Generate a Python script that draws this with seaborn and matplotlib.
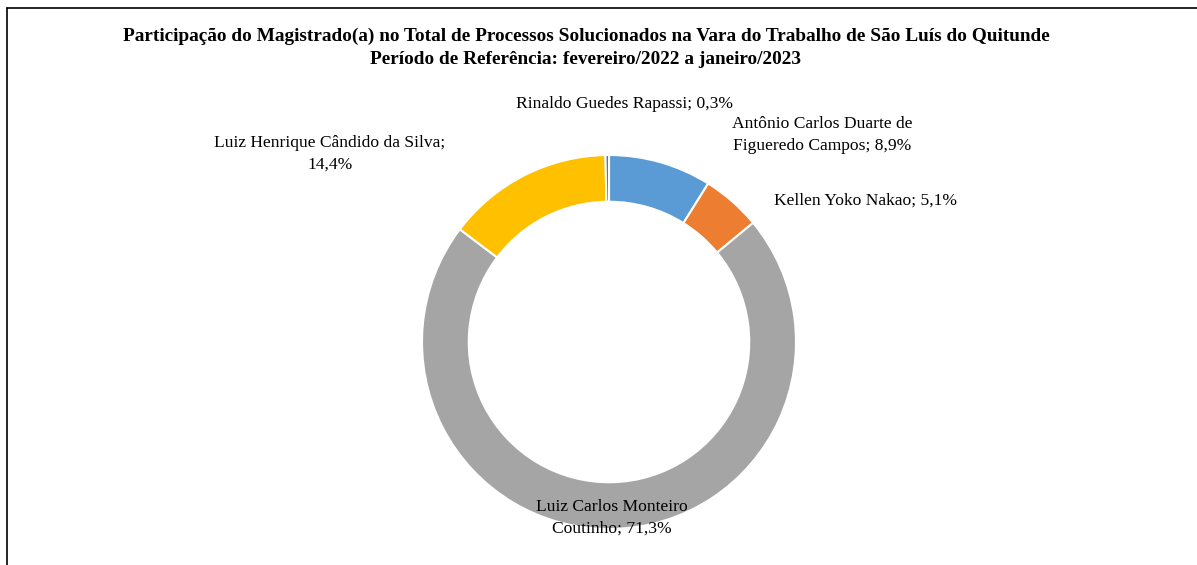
import matplotlib
matplotlib.use("Agg")
import matplotlib.pyplot as plt
import seaborn as sns

# data (clockwise from 12 o'clock)
magistrados = [
    "Antônio Carlos Duarte de Figueredo Campos",
    "Kellen Yoko Nakao",
    "Luiz Carlos Monteiro Coutinho",
    "Luiz Henrique Cândido da Silva",
    "Rinaldo Guedes Rapassi",
]
percentuais = [8.9, 5.1, 71.3, 14.4, 0.3]
rotulos = [
    "Antônio Carlos Duarte de\nFigueredo Campos; 8,9%",
    "Kellen Yoko Nakao; 5,1%",
    "Luiz Carlos Monteiro\nCoutinho; 71,3%",
    "Luiz Henrique Cândido da Silva;\n14,4%",
    "Rinaldo Guedes Rapassi; 0,3%",
]
cores = ["#5B9BD5", "#ED7D31", "#A5A5A5", "#FFC000", "#4472C4"]

titulo = ("Participação do Magistrado(a) no Total de Processos Solucionados na Vara do Trabalho de São Luís do Quitunde\n"
          "Período de Referência: fevereiro/2022 a janeiro/2023")

sns.set_theme(style="white")
plt.rcParams["font.family"] = ["Liberation Serif", "DejaVu Serif"]

W, H = 1197, 565
fig = plt.figure(figsize=(W / 100, H / 100), dpi=100)
ax = fig.add_axes([0, 0, 1, 1])
ax.axis("off")

# donut, center/radius in pixel coords (y measured from bottom)
cx, cy, r = 609, H - 342, 187
ax.pie(percentuais, colors=cores, startangle=90, counterclock=False,
       center=(cx, cy), radius=r,
       wedgeprops=dict(width=r * 0.25, edgecolor="white", linewidth=1.5))
ax.set_xlim(0, W)
ax.set_ylim(0, H)
ax.set_aspect("auto")

# label positions (pixel centers from the top)
pos_rotulos = [(822, 135), (865, 201), (612, 518), (330, 154), (624, 104)]
for txt, (x, y) in zip(rotulos, pos_rotulos):
    ax.text(x, H - y, txt, ha="center", va="center", fontsize=12.6,
            color="black", linespacing=1.45)

ax.text(586, H - 48, titulo, ha="center", va="center", fontsize=13.9,
        fontweight="bold", color="black", linespacing=1.42)

# partial frame like the source crop
ax.plot([7, W], [H - 8, H - 8], color="black", lw=1.2, clip_on=False)
ax.plot([7, 7], [H - 8, 0], color="black", lw=1.2, clip_on=False)

fig.savefig("out.png", dpi=100)
